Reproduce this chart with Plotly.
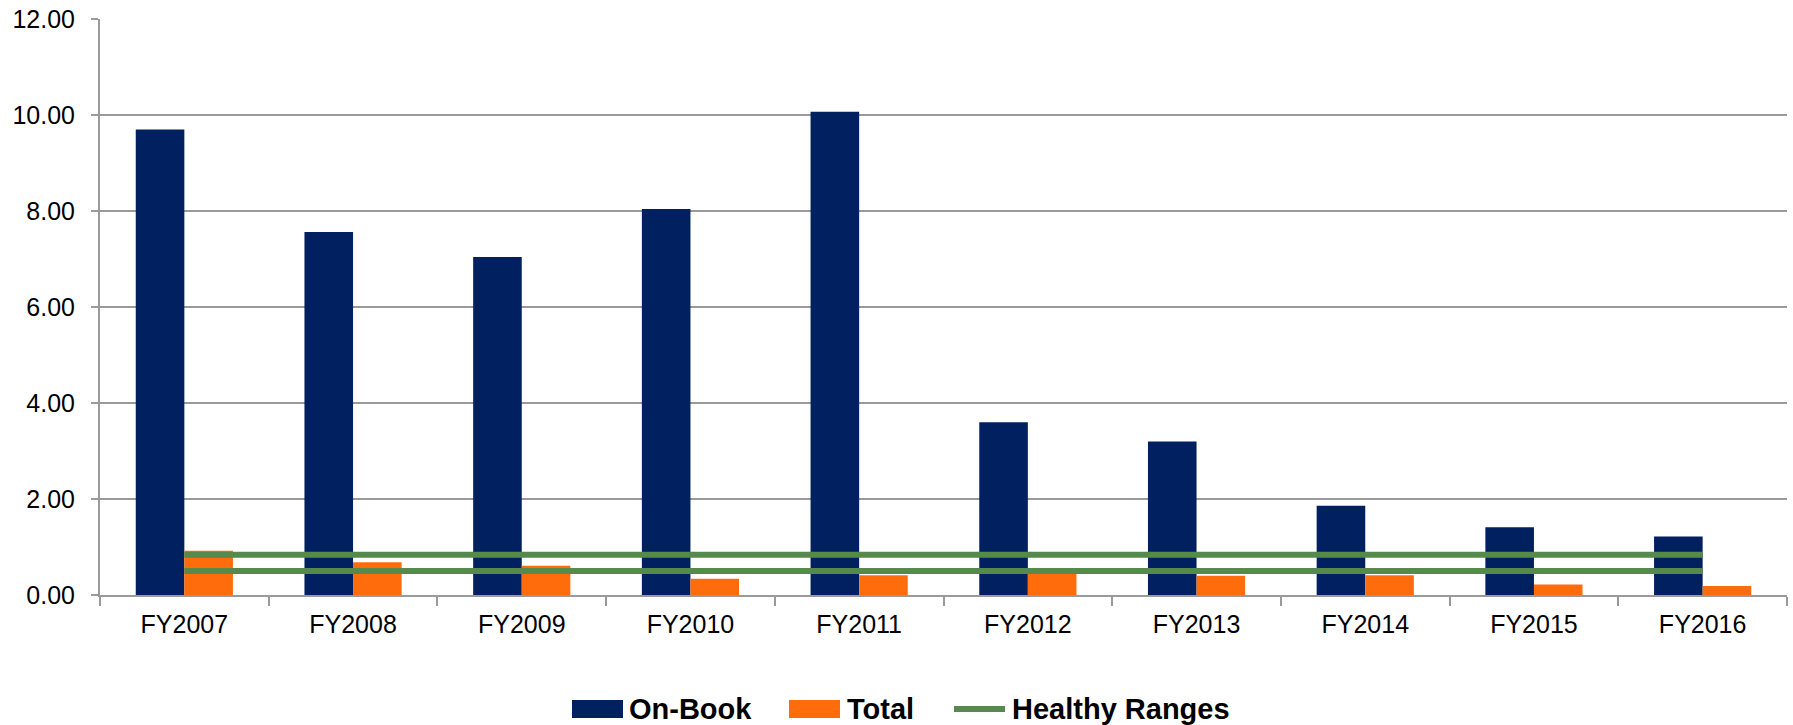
import plotly.graph_objects as go

# Fiscal years and ratio values
categories = ["FY2007", "FY2008", "FY2009", "FY2010", "FY2011",
              "FY2012", "FY2013", "FY2014", "FY2015", "FY2016"]
on_book = [9.70, 7.56, 7.04, 8.04, 10.07, 3.60, 3.20, 1.86, 1.41, 1.22]
total = [0.92, 0.68, 0.61, 0.34, 0.41, 0.45, 0.40, 0.41, 0.22, 0.19]
healthy_upper = [0.84] * len(categories)
healthy_lower = [0.50] * len(categories)
y_ticks = [0, 2, 4, 6, 8, 10, 12]

NAVY = "#002060"
ORANGE = "#FF6C0C"
GREEN = "#558A4C"
GRID = "#9a9a9a"
FONT = "Liberation Sans, Arial, sans-serif"

W, H = 1793, 725
L, R, T, B = 100, 6, 19, 130
PW, PH = W - L - R, H - T - B


def px_x(px):
    return (px - L) / PW


def px_y(py):
    return (H - B - py) / PH


fig = go.Figure()
fig.add_trace(go.Bar(x=categories, y=on_book, name="On-Book",
                     marker=dict(color=NAVY, line=dict(width=0)),
                     showlegend=False))
fig.add_trace(go.Bar(x=categories, y=total, name="Total",
                     marker=dict(color=ORANGE, line=dict(width=0)),
                     showlegend=False))
fig.add_trace(go.Scatter(x=categories, y=healthy_upper, mode="lines",
                         name="Healthy Ranges",
                         line=dict(color=GREEN, width=6),
                         showlegend=False))
fig.add_trace(go.Scatter(x=categories, y=healthy_lower, mode="lines",
                         name="Healthy Ranges",
                         line=dict(color=GREEN, width=6),
                         showlegend=False))

# Legend row below the axis
shapes = [
    dict(type="rect", xref="paper", yref="paper",
         x0=px_x(572), x1=px_x(623), y0=px_y(700), y1=px_y(718),
         fillcolor=NAVY, line=dict(width=0)),
    dict(type="rect", xref="paper", yref="paper",
         x0=px_x(789), x1=px_x(840), y0=px_y(700), y1=px_y(718),
         fillcolor=ORANGE, line=dict(width=0)),
    dict(type="line", xref="paper", yref="paper",
         x0=px_x(954), x1=px_x(1005), y0=px_y(709), y1=px_y(709),
         line=dict(color=GREEN, width=6)),
]
legend_items = [("On-Book", 627), ("Total", 845), ("Healthy Ranges", 1010)]
annotations = [
    dict(text=f"<b>{label}</b>", xref="paper", yref="paper",
         x=px_x(xpos), y=px_y(709), xanchor="left", yanchor="middle",
         showarrow=False, font=dict(family=FONT, size=29, color="black"))
    for label, xpos in legend_items
]

fig.update_layout(
    width=W, height=H,
    margin=dict(l=L, r=R, t=T, b=B),
    paper_bgcolor="white", plot_bgcolor="white",
    barmode="group", bargap=0.424, bargroupgap=0,
    font=dict(family=FONT, size=25, color="black"),
    shapes=shapes, annotations=annotations,
    showlegend=False,
)
fig.update_xaxes(
    type="category", showgrid=False,
    showline=True, linecolor=GRID, linewidth=2,
    ticks="outside", tickson="boundaries", ticklen=9,
    tickcolor=GRID, tickwidth=2,
    tickfont=dict(family=FONT, size=25, color="black"),
    ticklabelstandoff=6,
)
fig.update_yaxes(
    range=[0, 12], tickvals=y_ticks,
    ticktext=[f"{v:.2f}" for v in y_ticks],
    showgrid=True, gridcolor=GRID, gridwidth=2,
    showline=True, linecolor=GRID, linewidth=2,
    ticks="outside", ticklen=7, tickcolor=GRID, tickwidth=2,
    tickfont=dict(family=FONT, size=25, color="black"),
    ticklabelstandoff=11, zeroline=False,
)

fig.write_html("out.html")
